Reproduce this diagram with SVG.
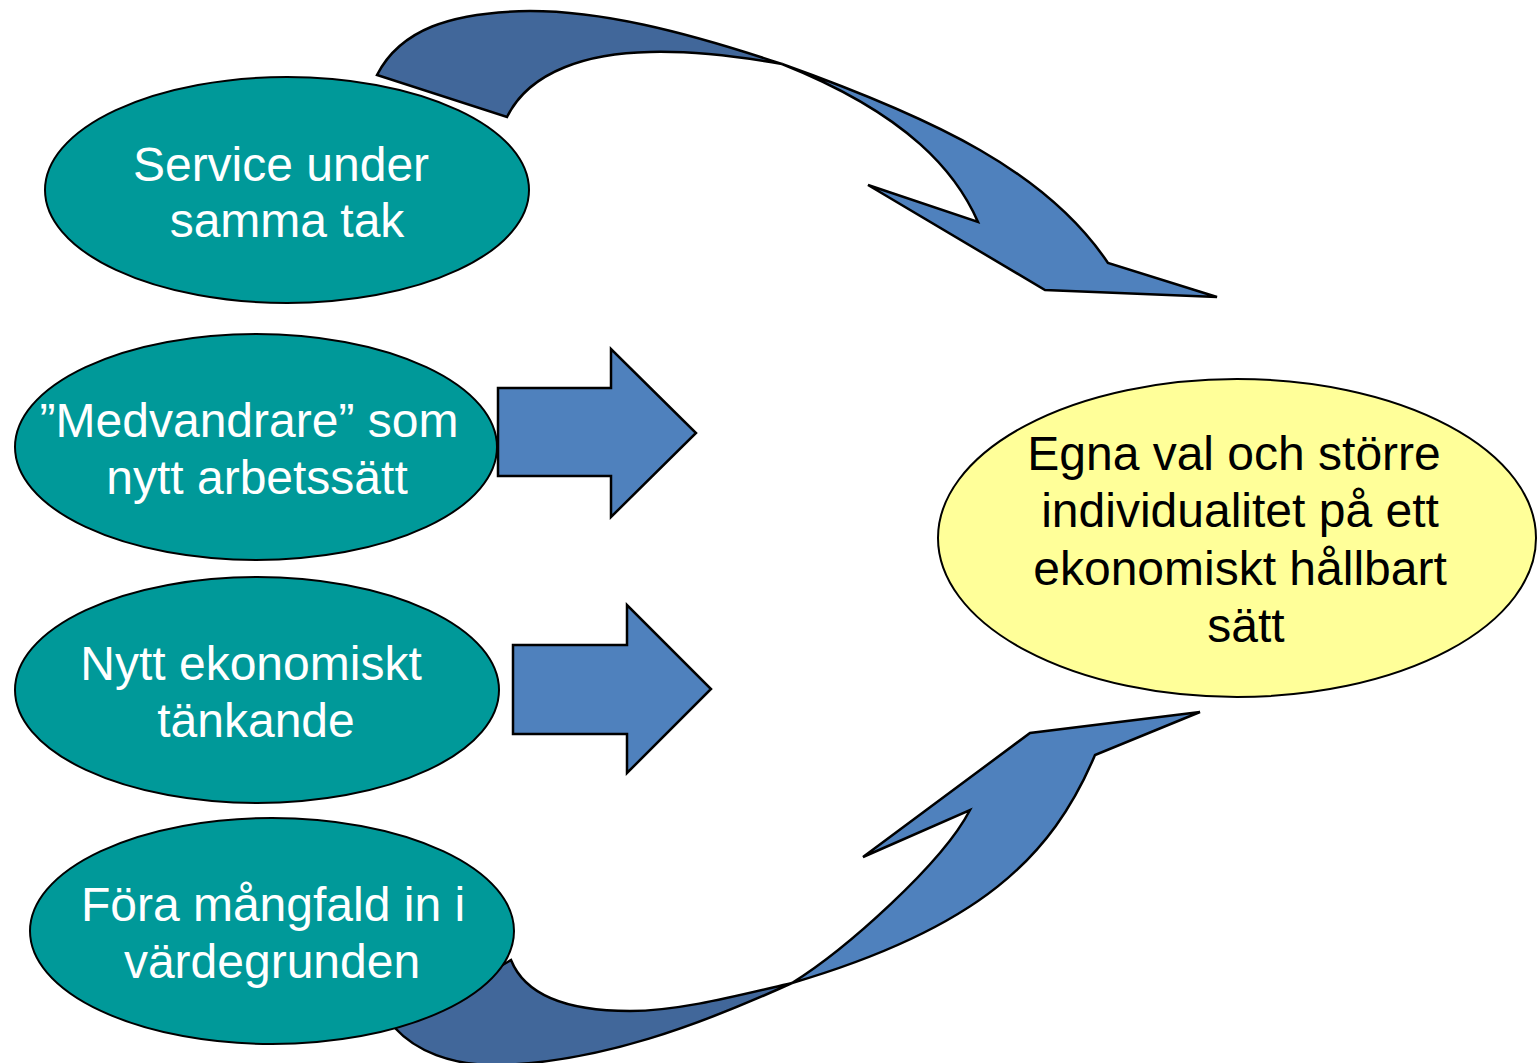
<svg xmlns="http://www.w3.org/2000/svg" width="1537" height="1063" viewBox="0 0 1537 1063">
<style>
.node{fill:#009999;stroke:#000;stroke-width:2}
.goal{fill:#FFFF99;stroke:#000;stroke-width:2}
.arr{fill:#4F81BD;stroke:#000;stroke-width:2.5;stroke-linejoin:miter}
.back{fill:#41679A;stroke:#000;stroke-width:2.5}
.t{font-family:"Liberation Sans",Arial,sans-serif;font-size:48px;fill:#fff;text-anchor:middle}
.tb{font-family:"Liberation Sans",Arial,sans-serif;font-size:48px;fill:#000;text-anchor:middle}
</style>
<rect width="1537" height="1063" fill="#fff"/>
<g id="connectors">
<g id="curve-top">
<path class="back" d="M377,75 C400,30 450,12 530,11 C600,11 680,30 782,64 C730,55 690,51 650,52 C590,53 530,70 507,117 Z"/>
<path class="arr" d="M782,64 C936,119 1047,172 1108,263 L1217,297 L1045,290 L868,185 L978,222 C957,174 910,115 782,64 Z"/>
</g>
<g id="curve-bottom">
<path class="back" d="M511,960 C525,995 565,1011 630,1011 C680,1011 740,995 792,983 C700,1025 600,1062 500,1065 C450,1066 415,1050 395,1028 Z"/>
<path class="arr" d="M792,983 C979,928 1052,857 1095,755 L1200,712 L1030,733 L863,857 L970,810 C942,864 845,950 792,983 Z"/>
</g>
<polygon id="arrow-1" class="arr" points="498,388 611,388 611,349 696,433 611,517 611,476 498,476"/>
<polygon id="arrow-2" class="arr" points="513,645 627,645 627,605 711,689 627,773 627,734 513,734"/>
</g>
<g id="node-service">
<ellipse class="node" cx="287" cy="190" rx="242" ry="113"/>
<text class="t" x="281" y="181">Service under</text>
<text class="t" x="287" y="237">samma tak</text>
</g>
<g id="node-medvandrare">
<ellipse class="node" cx="256" cy="447" rx="241" ry="113"/>
<text class="t" x="249" y="437">”Medvandrare” som</text>
<text class="t" x="257" y="494">nytt arbetssätt</text>
</g>
<g id="node-ekonomiskt">
<ellipse class="node" cx="257" cy="690" rx="242" ry="113"/>
<text class="t" x="251" y="680">Nytt ekonomiskt</text>
<text class="t" x="256" y="737">tänkande</text>
</g>
<g id="node-mangfald">
<ellipse class="node" cx="272" cy="931" rx="242" ry="113"/>
<text class="t" x="273" y="921">Föra mångfald in i</text>
<text class="t" x="272" y="978">värdegrunden</text>
</g>
<g id="node-goal">
<ellipse class="goal" cx="1237" cy="538" rx="299" ry="159"/>
<text class="tb" x="1234" y="470">Egna val och större</text>
<text class="tb" x="1240" y="527">individualitet på ett</text>
<text class="tb" x="1240" y="585">ekonomiskt hållbart</text>
<text class="tb" x="1246" y="642">sätt</text>
</g>
</svg>
